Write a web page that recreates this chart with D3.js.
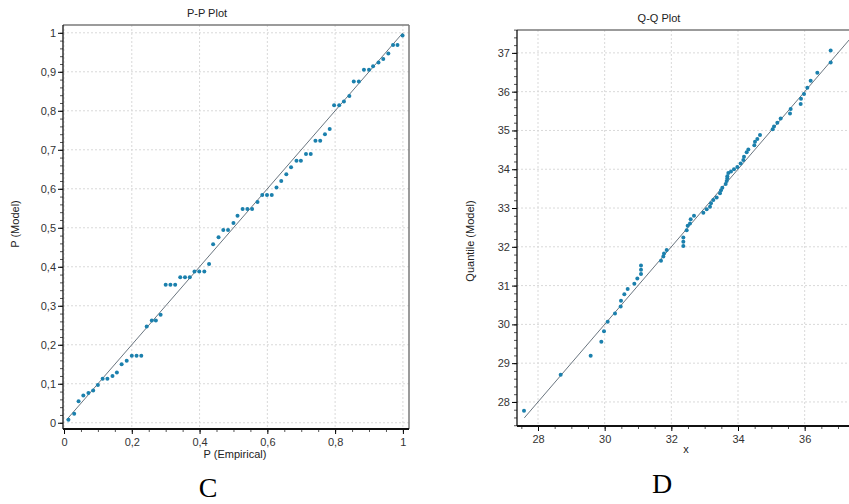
<!DOCTYPE html>
<html>
<head>
<meta charset="utf-8">
<script src="https://cdn.jsdelivr.net/npm/d3@7"></script>
<style>
  body { margin: 0; background: #fff; }
  svg { display: block; font-family: "Liberation Sans", Arial, sans-serif; }
  .tick text { font-size: 11px; fill: #333; }
</style>
</head>
<body>
<div id="chart"></div>
<script>
// P-P plot values
const ppEmpirical = [0.013, 0.03, 0.043, 0.057, 0.072, 0.086, 0.1, 0.114, 0.128, 0.143, 0.156, 0.17, 0.185, 0.2, 0.214, 0.228,
  0.244, 0.259, 0.271, 0.285, 0.3, 0.314, 0.328, 0.343, 0.357, 0.371, 0.385, 0.399, 0.414, 0.428, 0.44, 0.456, 0.47, 0.484, 0.5,
  0.512, 0.527, 0.541, 0.555, 0.571, 0.585, 0.599, 0.613, 0.627, 0.641, 0.656, 0.67, 0.686, 0.699, 0.714, 0.728, 0.742, 0.756, 0.77, 0.784,
  0.797, 0.812, 0.826, 0.842, 0.855, 0.87, 0.885, 0.9, 0.912, 0.928, 0.942, 0.957, 0.971, 0.984, 0.999];
const ppModel = [0.008, 0.023, 0.055, 0.07, 0.076, 0.083, 0.097, 0.113, 0.113, 0.12, 0.129, 0.15, 0.159, 0.172, 0.172, 0.172,
  0.247, 0.262, 0.262, 0.277, 0.354, 0.354, 0.354, 0.373, 0.373, 0.373, 0.388, 0.388, 0.388, 0.407, 0.458, 0.476, 0.494, 0.494, 0.512,
  0.531, 0.548, 0.548, 0.548, 0.566, 0.584, 0.584, 0.584, 0.603, 0.62, 0.637, 0.655, 0.672, 0.672, 0.689, 0.689, 0.723, 0.723, 0.74, 0.753,
  0.814, 0.814, 0.824, 0.838, 0.875, 0.875, 0.905, 0.905, 0.914, 0.924, 0.933, 0.947, 0.969, 0.969, 0.993];
const ppLine = [0.008, 1];
const ppXTicks = [0, 0.2, 0.4, 0.6, 0.8, 1];
const ppYTicks = [0, 0.1, 0.2, 0.3, 0.4, 0.5, 0.6, 0.7, 0.8, 0.9, 1];

// Q-Q plot values
const qqX = [27.58, 28.68, 29.58, 29.9, 29.98, 30.09, 30.31, 30.48, 30.49, 30.59, 30.69, 30.89, 30.98, 31.09, 31.09, 31.09,
  31.69, 31.76, 31.78, 31.86, 32.36, 32.36, 32.36, 32.46, 32.49, 32.56, 32.58, 32.68, 32.96, 33.06, 33.16, 33.19, 33.26,
  33.36, 33.46, 33.49, 33.53, 33.63, 33.66, 33.68, 33.68, 33.71, 33.79, 33.88, 33.98, 34.08, 34.16, 34.18, 34.26, 34.31,
  34.49, 34.51, 34.58, 34.66, 35.04, 35.08, 35.18, 35.28, 35.56, 35.58, 35.88, 35.89, 35.98, 36.08, 36.18, 36.38, 36.78, 36.78];
const qqY = [27.77, 28.7, 29.19, 29.55, 29.82, 30.07, 30.28, 30.46, 30.61, 30.78, 30.91, 31.05, 31.18, 31.3, 31.41, 31.52,
  31.64, 31.75, 31.83, 31.92, 32.02, 32.13, 32.24, 32.43, 32.54, 32.6, 32.71, 32.8, 32.88, 32.97, 33.03, 33.12, 33.21,
  33.27, 33.38, 33.46, 33.52, 33.62, 33.7, 33.77, 33.82, 33.9, 33.94, 34.0, 34.06, 34.15, 34.24, 34.32, 34.44, 34.51,
  34.62, 34.71, 34.78, 34.88, 35.03, 35.1, 35.2, 35.31, 35.44, 35.55, 35.68, 35.82, 35.94, 36.1, 36.28, 36.49, 36.75, 37.06];
const qqLine = [27.59, 37.6];
const qqXTicks = [28, 30, 32, 34, 36];
const qqYTicks = [28, 29, 30, 31, 32, 33, 34, 35, 36, 37];

const width = 849, height = 504;
const dotColor = "#1b80ad";
const lineColor = "#44525e";

const locale = d3.formatLocale({ decimal: ",", thousands: ".", grouping: [3], currency: ["", ""] });
const fmt = locale.format(".1~f");

const svg = d3.select("#chart").append("svg")
    .attr("width", width)
    .attr("height", height);

svg.append("rect").attr("width", width).attr("height", height).attr("fill", "#fff");

function drawPlot(opts) {
  const { x, y, xTicks, yTicks, xMinor, yMinor, box } = opts;
  const g = svg.append("g");

  // dotted grid
  g.selectAll(".vgrid").data(xTicks).enter().append("line")
      .attr("x1", d => x(d)).attr("x2", d => x(d))
      .attr("y1", box.top).attr("y2", box.bottom)
      .attr("stroke", "#d9d9d9").attr("stroke-dasharray", "2,2");
  g.selectAll(".hgrid").data(yTicks).enter().append("line")
      .attr("x1", box.left).attr("x2", box.right)
      .attr("y1", d => y(d)).attr("y2", d => y(d))
      .attr("stroke", "#d9d9d9").attr("stroke-dasharray", "2,2");

  // frame top / right
  g.append("line").attr("x1", box.left).attr("x2", box.right)
      .attr("y1", box.top).attr("y2", box.top)
      .attr("stroke", "#7a7a7a").attr("stroke-width", 1.5);
  g.append("line").attr("x1", box.right).attr("x2", box.right)
      .attr("y1", box.top).attr("y2", box.bottom)
      .attr("stroke", "#7a7a7a").attr("stroke-width", 1.5);

  // minor ticks
  g.append("g").attr("transform", `translate(0,${box.bottom})`)
      .call(d3.axisBottom(x).tickValues(xMinor).tickSize(3).tickFormat(""))
      .call(a => a.select(".domain").remove())
      .selectAll("line").attr("stroke", "#555");
  g.append("g").attr("transform", `translate(${box.left},0)`)
      .call(d3.axisLeft(y).tickValues(yMinor).tickSize(3).tickFormat(""))
      .call(a => a.select(".domain").remove())
      .selectAll("line").attr("stroke", "#555");

  // major axes
  const xa = g.append("g").attr("transform", `translate(0,${box.bottom})`)
      .call(d3.axisBottom(x).tickValues(xTicks).tickSize(5).tickPadding(4).tickFormat(opts.fmt));
  xa.select(".domain").remove();
  const ya = g.append("g").attr("transform", `translate(${box.left},0)`)
      .call(d3.axisLeft(y).tickValues(yTicks).tickSize(5).tickPadding(2).tickFormat(opts.fmt));
  ya.select(".domain").remove();
  g.selectAll(".tick text").attr("font-family", null);

  g.append("line").attr("x1", box.left).attr("x2", box.left)
      .attr("y1", box.top).attr("y2", box.bottom)
      .attr("stroke", "#111").attr("stroke-width", 1.3);
  g.append("line").attr("x1", box.left).attr("x2", box.right)
      .attr("y1", box.bottom).attr("y2", box.bottom)
      .attr("stroke", "#111").attr("stroke-width", 2);

  // reference line y = x
  g.append("line")
      .attr("x1", x(opts.line[0])).attr("y1", y(opts.line[0]))
      .attr("x2", x(opts.line[1])).attr("y2", y(opts.line[1]))
      .attr("stroke", lineColor).attr("stroke-width", 0.8);

  // points
  g.selectAll(".pt").data(opts.xs).enter().append("circle")
      .attr("cx", d => x(d))
      .attr("cy", (d, i) => y(opts.ys[i]))
      .attr("r", 2)
      .attr("fill", dotColor);

  // titles
  g.append("text").attr("x", opts.title.x).attr("y", opts.title.y)
      .attr("text-anchor", "middle").style("font-size", "11px").attr("fill", "#222")
      .text(opts.title.text);
  g.append("text").attr("x", opts.xLabel.x).attr("y", opts.xLabel.y)
      .attr("text-anchor", "middle").style("font-size", "11px").attr("fill", "#222")
      .text(opts.xLabel.text);
  g.append("text")
      .attr("transform", `translate(${opts.yLabel.x},${opts.yLabel.y}) rotate(-90)`)
      .attr("text-anchor", "middle").style("font-size", "11px").attr("fill", "#222")
      .text(opts.yLabel.text);
  g.append("text").attr("x", opts.letter.x).attr("y", opts.letter.y)
      .attr("text-anchor", "middle")
      .style("font-family", "'Liberation Serif', 'Times New Roman', serif")
      .style("font-size", "28px").attr("fill", "#000")
      .text(opts.letter.text);
}

// P-P
const ppBox = { left: 63, right: 409, top: 25, bottom: 429 };
drawPlot({
  box: ppBox,
  x: d3.scaleLinear().domain([-0.003, 1.018]).range([ppBox.left, ppBox.right]),
  y: d3.scaleLinear().domain([-0.016, 1.02]).range([ppBox.bottom, ppBox.top]),
  xTicks: ppXTicks, yTicks: ppYTicks,
  xMinor: d3.range(0, 1.001, 0.05),
  yMinor: d3.range(0, 1.001, 0.02),
  fmt: fmt,
  xs: ppEmpirical, ys: ppModel, line: ppLine,
  title: { text: "P-P Plot", x: 207, y: 17 },
  xLabel: { text: "P (Empirical)", x: 235, y: 458 },
  yLabel: { text: "P (Model)", x: 19, y: 224 },
  letter: { text: "C", x: 208, y: 497 }
});

// Q-Q
const qqBox = { left: 517, right: 858, top: 30, bottom: 426 };
drawPlot({
  box: qqBox,
  x: d3.scaleLinear().domain([27.37, 37.6]).range([qqBox.left, qqBox.right]),
  y: d3.scaleLinear().domain([27.38, 37.59]).range([qqBox.bottom, qqBox.top]),
  xTicks: qqXTicks, yTicks: qqYTicks,
  xMinor: d3.range(27.5, 37.6, 0.5),
  yMinor: d3.range(27.4, 37.6, 0.2),
  fmt: d3.format("d"),
  xs: qqX, ys: qqY, line: qqLine,
  title: { text: "Q-Q Plot", x: 659, y: 22 },
  xLabel: { text: "x", x: 686, y: 453 },
  yLabel: { text: "Quantile (Model)", x: 474, y: 241 },
  letter: { text: "D", x: 662, y: 493 }
});
</script>
</body>
</html>
